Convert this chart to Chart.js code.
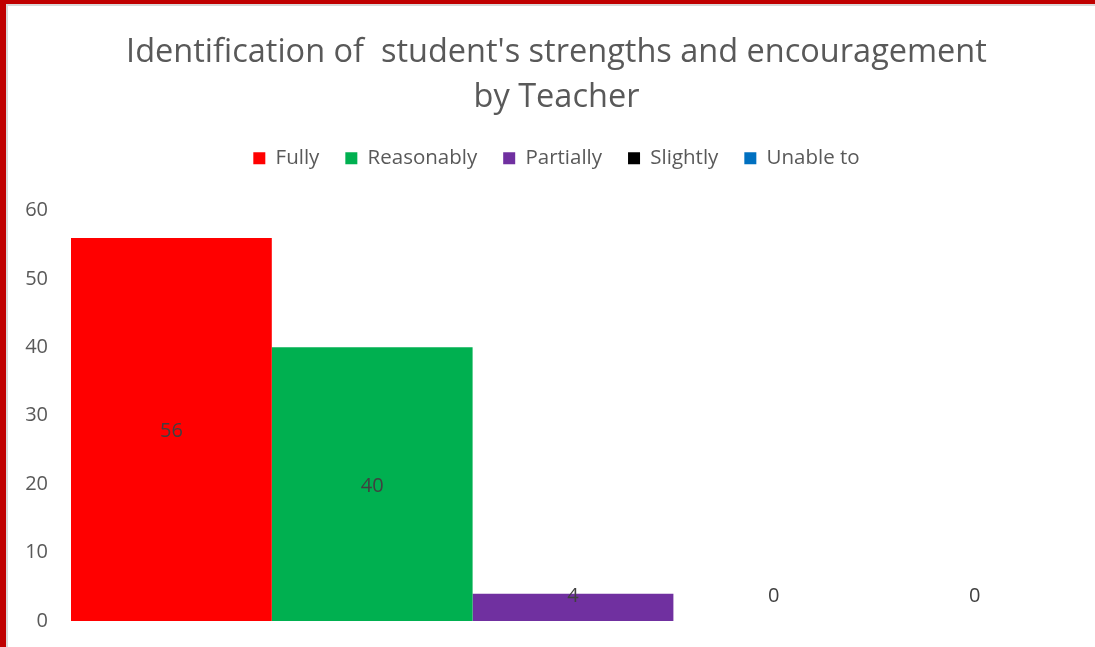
<!DOCTYPE html>
<html>
<head>
<meta charset="utf-8">
<script src="https://cdn.jsdelivr.net/npm/chart.js@4"></script>
<style>
  html, body { margin: 0; padding: 0; background: #fff; }
  #wrap { position: relative; width: 1095px; height: 647px; overflow: hidden; }
  #c { position: absolute; left: 0; top: 0; }
  .bl { position: absolute; left: 0; top: 0; width: 6px; height: 647px; background: #c00000; }
  .bl2 { position: absolute; left: 6px; top: 4px; width: 2px; height: 643px; background: #d9d9d9; }
  .bt { position: absolute; left: 0; top: 0; width: 1095px; height: 4px; background: #c00000; }
  .bt2 { position: absolute; left: 6px; top: 4px; width: 1089px; height: 2px; background: #d9d9d9; }
</style>
</head>
<body>
<div id="wrap">
  <canvas id="c" width="1095" height="647"></canvas>
  <div class="bt"></div><div class="bt2"></div><div class="bl"></div><div class="bl2"></div>
</div>
<script>
const titleLines = ["Identification of  student's strengths and encouragement", "by Teacher"];
const categories = [""];
const seriesNames = ["Fully", "Reasonably", "Partially", "Slightly", "Unable to"];
const seriesValues = [56, 40, 4, 0, 0];
const seriesColors = ["#ff0000", "#00b050", "#7030a0", "#000000", "#0070c0"];
const yTicks = [0, 10, 20, 30, 40, 50, 60];

const FONT = "'Open Sans', sans-serif";

const labelPlugin = {
  id: 'valueLabels',
  afterDatasetsDraw(chart) {
    const ctx = chart.ctx;
    const yScale = chart.scales.y;
    const zeroY = yScale.getPixelForValue(0);
    ctx.save();
    ctx.font = "20px " + FONT;
    ctx.fillStyle = "#404040";
    ctx.textAlign = "center";
    ctx.textBaseline = "middle";
    chart.data.datasets.forEach((ds, i) => {
      const meta = chart.getDatasetMeta(i);
      meta.data.forEach((bar, j) => {
        const v = ds.data[j];
        const center = (bar.y + bar.base) / 2 + 2;
        const y = Math.min(center, zeroY - 25);
        ctx.fillText(String(v), bar.x, y);
      });
    });
    ctx.restore();
  }
};

function makeBox(position, weight, fullSize, size) {
  return {
    position, weight, fullSize, options: {},
    left: 0, top: 0, right: 0, bottom: 0, width: 0, height: 0,
    isHorizontal() { return position === 'top' || position === 'bottom'; },
    update(maxWidth, maxHeight) {
      if (this.isHorizontal()) { this.width = maxWidth; this.height = size; }
      else { this.width = size; this.height = maxHeight; }
    },
    draw() {}
  };
}

const spacerPlugin = {
  id: 'spacers',
  beforeInit(chart) {
    Chart.layouts.addBox(chart, makeBox('top', 500, true, 32));
    Chart.layouts.addBox(chart, makeBox('right', 500, false, 20));
  }
};

new Chart(document.getElementById('c'), {
  type: 'bar',
  data: {
    labels: categories,
    datasets: seriesNames.map((n, i) => ({
      label: n,
      data: [seriesValues[i]],
      backgroundColor: seriesColors[i],
      borderWidth: 0,
      inflateAmount: 0,
      categoryPercentage: 1.0,
      barPercentage: 1.0
    }))
  },
  options: {
    responsive: false,
    animation: false,
    devicePixelRatio: 1,
    layout: { padding: { left: 18, right: 0, top: 20, bottom: 26 } },
    plugins: {
      title: {
        display: true,
        text: titleLines,
        color: '#595959',
        font: { family: FONT, size: 32.5, weight: 'normal', lineHeight: 1.385 },
        padding: { top: 10, bottom: 2 }
      },
      legend: {
        display: true,
        position: 'top',
        labels: {
          color: '#595959',
          font: { family: FONT, size: 20.5 },
          boxWidth: 12,
          boxHeight: 12,
          padding: 26
        }
      },
      tooltip: { enabled: false }
    },
    scales: {
      x: { display: false },
      y: {
        min: 0, max: 60,
        afterBuildTicks(scale) { scale.ticks = yTicks.map(v => ({ value: v })); },
        afterFit(scale) { scale.width = 53; scale.paddingTop = 0; scale.paddingBottom = 0; },
        grid: { display: false, drawTicks: false },
        border: { display: false },
        ticks: { color: '#595959', font: { family: FONT, size: 20 }, padding: 23 }
      }
    }
  },
  plugins: [labelPlugin, spacerPlugin]
});
</script>
</body>
</html>
